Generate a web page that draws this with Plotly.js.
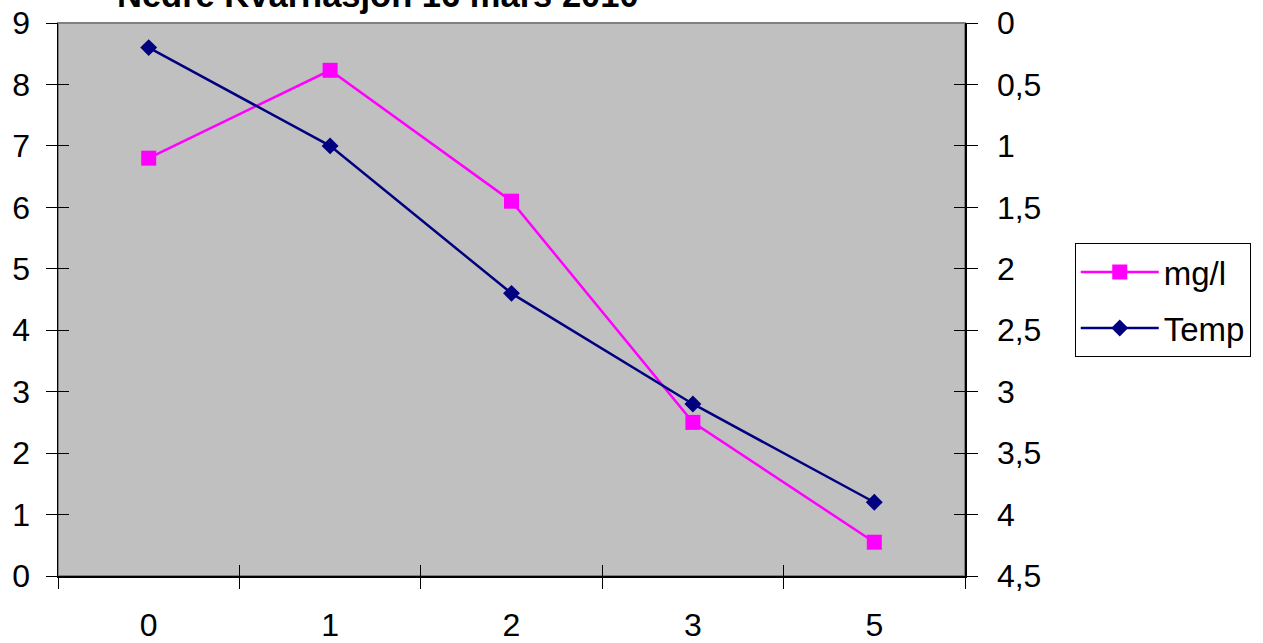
<!DOCTYPE html>
<html>
<head>
<meta charset="utf-8">
<script src="https://cdn.plot.ly/plotly-3.0.1.min.js"></script>
<style>html,body{margin:0;padding:0;background:#fff;}#chart{width:1263px;height:643px;}</style>
</head>
<body>
<div id="chart"></div>
<script>
const chartTitle = "Nedre Kvarnasjön 16 mars 2010";
const depths = ["0", "1", "2", "3", "5"];
const mgl = [6.8, 8.23, 6.1, 2.5, 0.55];
const temp = [0.2, 1.0, 2.2, 3.1, 3.9];
const seriesNames = ["mg/l", "Temp"];
const leftTicks = [0, 1, 2, 3, 4, 5, 6, 7, 8, 9];
const rightTicks = [0, 0.5, 1, 1.5, 2, 2.5, 3, 3.5, 4, 4.5];
const boundaryTicks = [-0.5, 0.5, 1.5, 2.5, 3.5, 4.5];

const FONT = "Arial, 'Liberation Sans', sans-serif";
const TS = 32;

const traces = [
  {x: depths, y: mgl, name: seriesNames[0], type: "scatter", mode: "lines+markers", legendgroup: "a",
   line: {color: "#FF00FF", width: 2.5}, marker: {symbol: "square", size: 15, color: "#FF00FF"},
   xaxis: "x", yaxis: "y"},
  {x: depths, y: temp, name: seriesNames[1], type: "scatter", mode: "lines+markers", legendgroup: "b",
   line: {color: "#000080", width: 2.5}, marker: {symbol: "diamond", size: 13, color: "#000080"},
   xaxis: "x", yaxis: "y2"},
  {x: [], y: [], xaxis: "x2", yaxis: "y3", showlegend: false, hoverinfo: "skip"},
  {x: [], y: [], xaxis: "x2", yaxis: "y4", showlegend: false, hoverinfo: "skip"}
];

const layout = {
  width: 1263, height: 643,
  margin: {l: 58, r: 296, t: 23, b: 67},
  paper_bgcolor: "#FFFFFF",
  plot_bgcolor: "#C0C0C0",
  separators: ", ",
  font: {family: FONT, size: TS, color: "#000"},
  showlegend: true,
  xaxis: {
    type: "category", categoryorder: "array", categoryarray: depths,
    range: [-0.5, 4.5], tickson: "boundaries",
    ticks: "outside", ticklen: 11, tickwidth: 1, tickcolor: "#000",
    showline: true, linecolor: "#000", linewidth: 1.5,
    showgrid: false, zeroline: false, fixedrange: true,
    ticklabelstandoff: 20,
    tickfont: {family: FONT, size: TS, color: "#000"}
  },
  xaxis2: {
    overlaying: "x", anchor: "y3", range: [-0.5, 4.5], tickmode: "array", tickvals: boundaryTicks,
    ticks: "inside", ticklen: 11, tickwidth: 1, tickcolor: "#000",
    showticklabels: false, showline: false, showgrid: false, zeroline: false
  },
  yaxis: {
    range: [0, 9], tickmode: "array", tickvals: leftTicks,
    ticks: "outside", ticklen: 11, tickwidth: 1, tickcolor: "#000",
    showline: true, linecolor: "#000", linewidth: 1.5,
    showgrid: false, zeroline: false,
    ticklabelstandoff: 9,
    tickfont: {family: FONT, size: TS, color: "#000"}
  },
  yaxis2: {
    overlaying: "y", side: "right", anchor: "x",
    range: [4.5, 0], tickmode: "array", tickvals: rightTicks,
    ticks: "outside", ticklen: 11, tickwidth: 1, tickcolor: "#000",
    showline: true, linecolor: "#000", linewidth: 1.5,
    showgrid: false, zeroline: false,
    ticklabelstandoff: 13,
    tickfont: {family: FONT, size: TS, color: "#000"}
  },
  yaxis3: {
    overlaying: "y", anchor: "x2", range: [0, 9], tickmode: "array", tickvals: leftTicks,
    ticks: "inside", ticklen: 11, tickwidth: 1, tickcolor: "#000",
    showticklabels: false, showline: false, showgrid: false, zeroline: false
  },
  yaxis4: {
    overlaying: "y", side: "right", anchor: "x2", range: [4.5, 0], tickmode: "array", tickvals: rightTicks,
    ticks: "inside", ticklen: 11, tickwidth: 1, tickcolor: "#000",
    showticklabels: false, showline: false, showgrid: false, zeroline: false
  },
  legend: {
    x: 1.121, y: 0.602, xanchor: "left", yanchor: "top",
    bgcolor: "#FFFFFF", bordercolor: "#000", borderwidth: 1,
    font: {family: FONT, size: 33, color: "#000"},
    itemwidth: 78, traceorder: "grouped", tracegroupgap: 10
  },
  shapes: [
    {type: "rect", xref: "paper", yref: "paper", x0: 0, x1: 1, y0: 0, y1: 1,
     line: {color: "#808080", width: 2}, layer: "below"}
  ],
  annotations: [
    {text: "<b>" + chartTitle + "</b>", xref: "paper", yref: "paper", x: 0.353, y: 1.050,
     xanchor: "center", yanchor: "middle", showarrow: false,
     font: {family: FONT, size: 34.5, color: "#000"}}
  ]
};

Plotly.newPlot("chart", traces, layout, {displayModeBar: false, staticPlot: true});
</script>
</body>
</html>
